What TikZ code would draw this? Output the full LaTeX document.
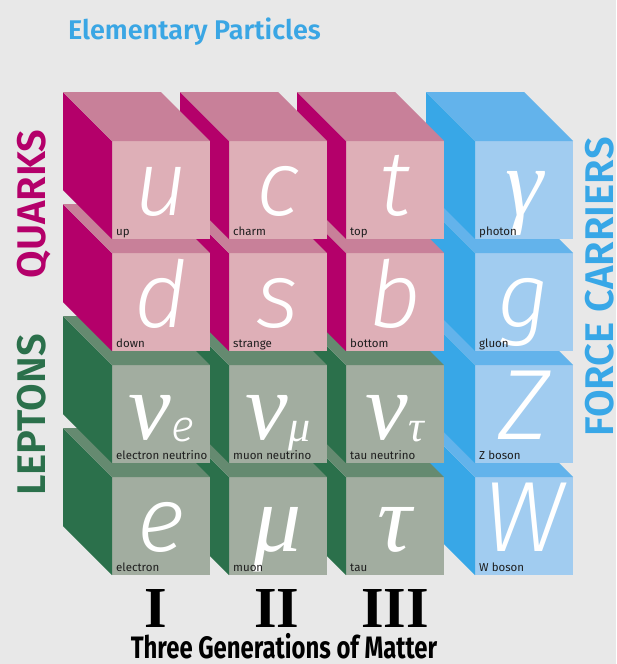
\documentclass[tikz,border=0pt]{standalone}
\usepackage{fontspec}
\setmainfont{Fira Sans}
\newfontfamily\symfont{Fira Sans Light}[ItalicFont={Fira Sans Light Italic}]
\newfontfamily\titlefont{Fira Sans SemiBold}
\newfontfamily\greekfont{Liberation Serif}
\usetikzlibrary{positioning}
\definecolor{bgpage}{HTML}{E8E8E8}
\definecolor{qfront}{HTML}{DEAFB7}
\definecolor{qtop}{HTML}{C88099}
\definecolor{qside}{HTML}{B4006A}
\definecolor{lfront}{HTML}{A2ADA0}
\definecolor{ltop}{HTML}{658A70}
\definecolor{lside}{HTML}{2B704B}
\definecolor{bfront}{HTML}{A1CCF0}
\definecolor{btop}{HTML}{63B3EB}
\definecolor{bside}{HTML}{38A7E7}
\definecolor{titleblue}{HTML}{3AA6E4}
\definecolor{labelgray}{HTML}{1E1E1E}

% one cube: name, centre x, centre y, family (q/l/b), symbol, symbol style, label
\newcommand{\particle}[7]{%
  \node[face, fill=#4front] (#1) at (#2,#3) {};
  \fill[#4side] (#1.north west) -- ++(-49,-49) -- ++(0,98) -- (#1.south west) -- cycle;
  \fill[#4top] (#1.north west) -- ++(-49,-49) -- ++(98,0) -- (#1.north east) -- cycle;
  \node[#6] (#1-sym) at ([yshift=24pt]#1.south) {#5};
  \node[lbl] (#1-lbl) at ([xshift=4pt,yshift=4pt]#1.south west) {#7};
}
\newcommand{\flavour}[1]{\raisebox{-2pt}{\fontsize{44}{44}\selectfont #1}}

\begin{document}
\begin{tikzpicture}[x=1pt, y=-1pt,
    face/.style={minimum width=98pt, minimum height=98pt, inner sep=0pt, outer sep=0pt},
    sym/.style={anchor=base, text=white, inner sep=0pt,
                font=\symfont\itshape\fontsize{92}{92}\selectfont},
    gsym/.style={sym, font=\greekfont\itshape\fontsize{96}{96}\selectfont},
    lbl/.style={anchor=base west, inner sep=0pt, text=labelgray,
                font=\fontsize{11.5}{12}\selectfont},
    side/.style={anchor=base, rotate=90, inner sep=0pt,
                 font=\titlefont\fontsize{40}{40}\selectfont},
    gen/.style={anchor=base, inner sep=0pt,
                font=\greekfont\bfseries\fontsize{58}{58}\selectfont},
  ]
  \fill[bgpage] (0,0) rectangle (616,664);
  \useasboundingbox (0,0) rectangle (616,664);

  % back to front: bottom row first, right to left
  \particle{wboson}{524}{526}{b}{\fontsize{100}{100}\selectfont W}{sym}{W boson}
  \particle{tau}{395}{526}{l}{τ}{gsym}{tau}
  \particle{muon}{278}{526}{l}{μ}{gsym}{muon}
  \particle{electron}{161}{526}{l}{e}{sym}{electron}

  \particle{zboson}{524}{414}{b}{\fontsize{100}{100}\selectfont Z}{sym}{Z boson}
  \particle{nutau}{395}{414}{l}{ν\flavour{τ}}{gsym}{tau neutrino}
  \particle{numu}{278}{414}{l}{ν\flavour{μ}}{gsym}{muon neutrino}
  \particle{nue}{161}{414}{l}{ν\flavour{\symfont\itshape e}}{gsym}{electron neutrino}

  \particle{gluon}{524}{302}{b}{g}{sym}{gluon}
  \particle{bottom}{395}{302}{q}{b}{sym}{bottom}
  \particle{strange}{278}{302}{q}{s}{sym}{strange}
  \particle{down}{161}{302}{q}{d}{sym}{down}

  \particle{photon}{524}{190}{b}{γ}{gsym}{photon}
  \particle{top}{395}{190}{q}{t}{sym}{top}
  \particle{charm}{278}{190}{q}{c}{sym}{charm}
  \particle{up}{161}{190}{q}{u}{sym}{up}

  \node[anchor=base west, inner sep=0pt, text=titleblue,
        font=\titlefont\fontsize{27}{27}\selectfont] (title) at (68,39) {Elementary Particles};

  \node[side, text=qside] (quarks) at (45,204) {QUARKS};
  \node[side, text=lside] (leptons) at (45,415) {LEPTONS};
  \node[side, text=bside] (carriers) at (613,287) {FORCE CARRIERS};

  \node[gen] (gen1) at (156,627) {I};
  \node[gen] (gen2) at (277,627) {II};
  \node[gen] (gen3) at (395,627) {III};
  \node[anchor=base, inner sep=0pt, font=\bfseries\fontsize{31}{31}\selectfont]
    (matter) at (284,658) {\scalebox{0.77}[1]{Three Generations of Matter}};
\end{tikzpicture}
\end{document}
